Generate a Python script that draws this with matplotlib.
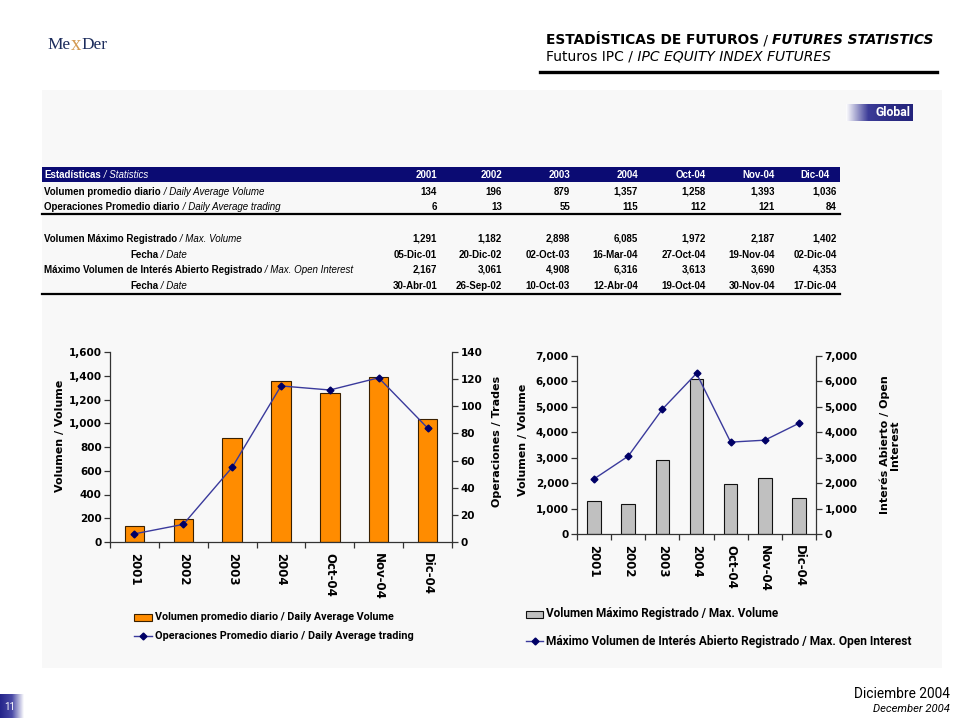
import matplotlib
matplotlib.use('Agg')
import matplotlib.pyplot as plt
import numpy as np
from matplotlib import font_manager
from matplotlib.colors import LinearSegmentedColormap
from matplotlib.lines import Line2D
from matplotlib.patches import Rectangle

# ---------------- data ----------------
periods = ['2001', '2002', '2003', '2004', 'Oct-04', 'Nov-04', 'Dic-04']
avg_volume = [134, 196, 879, 1357, 1258, 1393, 1036]
avg_trades = [6, 13, 55, 115, 112, 121, 84]
max_volume = [1291, 1182, 2898, 6085, 1972, 2187, 1402]
max_volume_date = ['05-Dic-01', '20-Dic-02', '02-Oct-03', '16-Mar-04',
                   '27-Oct-04', '19-Nov-04', '02-Dic-04']
max_open_interest = [2167, 3061, 4908, 6316, 3613, 3690, 4353]
max_open_interest_date = ['30-Abr-01', '26-Sep-02', '10-Oct-03', '12-Abr-04',
                          '19-Oct-04', '30-Nov-04', '17-Dic-04']

vol_ticks = [0, 200, 400, 600, 800, 1000, 1200, 1400, 1600]
trade_ticks = [0, 20, 40, 60, 80, 100, 120, 140]
max_ticks = [0, 1000, 2000, 3000, 4000, 5000, 6000, 7000]

# ---------------- setup ----------------
W, H = 960, 720
fig = plt.figure(figsize=(9.6, 7.2), dpi=100)
fig.patch.set_facecolor('white')
R = fig.canvas.get_renderer()

def fx(px):
    return px / W

def fy(py):
    return 1 - py / H

names = {f.name for f in font_manager.fontManager.ttflist}

def pick(*cands):
    for c in cands:
        if c in names:
            return c
    return 'DejaVu Sans'

NARROW = pick('Liberation Sans Narrow', 'Liberation Sans')
VERD = 'DejaVu Sans'
TAHOMA = pick('DejaVu Sans Condensed', 'Roboto', 'DejaVu Sans')
SERIF = pick('Liberation Serif', 'DejaVu Serif')

NAVY = '#0b0b73'


def rich(x, y, parts, ha='left', size=8, fit=None, **common):
    def draw(sz):
        ts = []
        cur = x
        for s, kw in parts:
            opts = dict(common)
            opts.update(kw)
            sc = opts.pop('scale', 1.0)
            adv = opts.pop('adv', 0.0)
            t = fig.text(fx(cur), fy(y), s, ha='left', va='center',
                         fontsize=sz * sc, **opts)
            cur += t.get_window_extent(renderer=R).width + adv
            ts.append(t)
        return ts, cur - x
    ts, w = draw(size)
    if fit:
        for t in ts:
            t.remove()
        size = size * fit / w
        ts, w = draw(size)
    if ha != 'left':
        shift = w if ha == 'right' else w / 2
        for t in ts:
            px, py = t.get_position()
            t.set_position((px - shift / W, py))
    return size


def grad_box(x0, y0, x1, y1, colors):
    ax = fig.add_axes([fx(x0), fy(y1), (x1 - x0) / W, (y1 - y0) / H])
    cmap = LinearSegmentedColormap.from_list('g', colors)
    ax.imshow(np.linspace(0, 1, 256)[None, :], aspect='auto', cmap=cmap,
              extent=[0, 1, 0, 1])
    ax.axis('off')
    return ax


def hline(x0, x1, y, lw, color='black'):
    fig.add_artist(Line2D([fx(x0), fx(x1)], [fy(y), fy(y)], lw=lw,
                          color=color, transform=fig.transFigure))

# ---------------- background panel ----------------
fig.add_artist(Rectangle((fx(42), fy(668)), 900 / W, 578 / H,
                         transform=fig.transFigure, facecolor='#f8f8f8',
                         edgecolor='none', zorder=-5))

# ---------------- logo ----------------
rich(47, 45, [('Me', {'color': '#1c2c5c', 'adv': 0.5}),
              ('x', {'color': '#d39a52', 'scale': 1.2, 'adv': 0.5}),
              ('Der', {'color': '#1c2c5c'})],
     size=16, fit=60, family=SERIF)

# ---------------- header ----------------
rich(546, 40, [('ESTADÍSTICAS DE FUTUROS', {'fontweight': 'bold'}),
               (' / ', {}),
               ('FUTURES STATISTICS', {'fontweight': 'bold', 'fontstyle': 'italic'})],
     size=9, fit=387, family=VERD)
rich(546, 56, [('Futuros IPC /', {}),
               (' IPC EQUITY INDEX FUTURES', {'fontstyle': 'italic'})],
     size=9, fit=286, family=VERD)
hline(540, 937, 72, 2.4)

# Global tag
grad_box(846, 104, 913, 121, ['#ffffff', '#3c3c98', '#2c2c84', '#24247c'])
rich(893, 113, [('Global', {})], ha='center', size=8.5, fit=35, color='white',
     fontweight='bold', family=TAHOMA)

# ---------------- table ----------------
col_right = [437, 502, 570, 638, 706, 775, 837]
fig.add_artist(Rectangle((fx(42), fy(182)), (840 - 42) / W, 15 / H,
                         transform=fig.transFigure, facecolor=NAVY,
                         edgecolor='none'))

row_y = [192, 207, 239, 255, 270, 286]
S = rich(44, row_y[4], [('Máximo Volumen de Interés Abierto Registrado', {'fontweight': 'bold'}),
                        (' / Max. Open Interest', {'fontstyle': 'italic'})],
         size=8, fit=311, family=NARROW)

rich(44, 175, [('Estadísticas', {'fontweight': 'bold'}),
               (' / Statistics', {'fontstyle': 'italic'})],
     size=S, family=NARROW, color='white')
for i, p in enumerate(periods):
    xr = col_right[i] if i < 6 else 830
    fig.text(fx(xr), fy(175), p, ha='right', va='center', color='white',
             fontsize=S, fontweight='bold', family=NARROW)

row_labels = [
    (44, 'Volumen promedio diario', ' / Daily Average Volume'),
    (44, 'Operaciones Promedio diario', ' / Daily Average trading'),
    (44, 'Volumen Máximo Registrado', ' / Max. Volume'),
    (130, 'Fecha', ' / Date'),
    None,
    (130, 'Fecha', ' / Date'),
]
for (lab, yy) in zip(row_labels, row_y):
    if lab is None:
        continue
    rich(lab[0], yy, [(lab[1], {'fontweight': 'bold'}), (lab[2], {'fontstyle': 'italic'})],
         size=S, family=NARROW)

row_values = [
    [f'{v:,}' for v in avg_volume],
    [f'{v:,}' for v in avg_trades],
    [f'{v:,}' for v in max_volume],
    max_volume_date,
    [f'{v:,}' for v in max_open_interest],
    max_open_interest_date,
]
for vals, yy in zip(row_values, row_y):
    for i, v in enumerate(vals):
        fig.text(fx(col_right[i]), fy(yy), v, ha='right', va='center',
                 fontsize=S, fontweight='bold', family=NARROW)

hline(42, 840, 214.5, 1.6)
hline(42, 840, 294, 1.6)

# ---------------- charts ----------------
SPINE = '#333333'
LINE_C = '#3a3a9c'
MARK_C = '#000066'
x = np.arange(len(periods))


def style_axes(ax, ax2, yticks, yticks2):
    ax.set_facecolor('none')
    ax.set_xlim(-0.5, len(periods) - 0.5)
    ax.set_ylim(yticks[0], yticks[-1])
    ax.set_yticks(yticks)
    ax.set_yticklabels([f'{v:,}' for v in yticks])
    ax2.set_ylim(yticks2[0], yticks2[-1])
    ax2.set_yticks(yticks2)
    ax2.set_yticklabels([f'{v:,}' for v in yticks2])
    ax.set_xticks(np.arange(-0.5, len(periods), 1.0))
    ax.set_xticklabels([])
    ax.set_xticks(x, minor=True)
    ax.set_xticklabels(periods, minor=True, rotation=-90, va='top',
                       ha='center', fontsize=8.5, fontweight='bold', family=VERD)
    ax.tick_params(axis='x', which='minor', length=0, pad=8)
    ax.tick_params(axis='x', which='major', length=4, width=0.9, color=SPINE)
    for a in (ax, ax2):
        a.tick_params(axis='y', length=4, width=0.9, color=SPINE, labelsize=7.5, pad=2)
        for lab in a.get_yticklabels():
            lab.set_fontweight('bold')
            lab.set_family(VERD)
        a.spines['top'].set_visible(False)
    ax.spines['right'].set_visible(False)
    for s in ('left', 'bottom'):
        ax.spines[s].set_color(SPINE)
        ax.spines[s].set_linewidth(0.9)
    ax2.spines['left'].set_visible(False)
    ax2.spines['bottom'].set_visible(False)
    ax2.spines['right'].set_color(SPINE)
    ax2.spines['right'].set_linewidth(0.9)


# Left chart
ax1 = fig.add_axes([fx(110), fy(542), 342 / W, 190 / H])
ax1b = ax1.twinx()
ax1.bar(x, avg_volume, width=0.4, color='#ff8c00', edgecolor='#3a2000',
        linewidth=0.8, zorder=2)
ax1b.plot(x, avg_trades, color=LINE_C, lw=1.0, marker='D', markersize=3.5,
          markerfacecolor=MARK_C, markeredgecolor=MARK_C)
style_axes(ax1, ax1b, vol_ticks, trade_ticks)
ax1.set_ylabel('Volumen / Volume', fontsize=8, fontweight='bold', family=VERD)
ax1.yaxis.set_label_coords((65 - 110) / 342, 0.56)
ax1b.set_ylabel('Operaciones / Trades', fontsize=8, fontweight='bold', family=VERD,
                rotation=90)
ax1b.yaxis.set_label_coords((492 - 110) / 342, 0.53)

# Right chart
ax2 = fig.add_axes([fx(577), fy(534), 239 / W, 178 / H])
ax2b = ax2.twinx()
ax2.bar(x, max_volume, width=0.4, color='#c0c0c0', edgecolor='#111111',
        linewidth=0.8, zorder=2)
ax2b.plot(x, max_open_interest, color=LINE_C, lw=1.0, marker='D', markersize=3.5,
          markerfacecolor=MARK_C, markeredgecolor=MARK_C)
style_axes(ax2, ax2b, max_ticks, max_ticks)
ax2.set_ylabel('Volumen / Volume', fontsize=8, fontweight='bold', family=VERD)
ax2.yaxis.set_label_coords((528 - 577) / 239, 0.53)
ax2b.set_ylabel('Interés Abierto / Open\nInterest', fontsize=8, fontweight='bold',
                family=VERD, rotation=90, linespacing=1.0, ha='center')
ax2b.yaxis.set_label_coords((879 - 577) / 239, 0.5)

# ---------------- legends ----------------
rich(155, 617, [('Volumen promedio diario / Daily Average Volume', {})],
     size=7, fit=238, family=TAHOMA, fontweight='bold')
rich(155, 636, [('Operaciones Promedio diario / Daily Average trading', {})],
     size=7, fit=258, family=TAHOMA, fontweight='bold')
fig.add_artist(Rectangle((fx(134), fy(621)), 18 / W, 7 / H, transform=fig.transFigure,
                         facecolor='#ff8c00', edgecolor='#3a2000', lw=0.8))
fig.add_artist(Line2D([fx(134), fx(152)], [fy(636), fy(636)], transform=fig.transFigure,
                      color=LINE_C, lw=1.0))
fig.add_artist(Line2D([fx(143)], [fy(636)], transform=fig.transFigure, marker='D',
                      markersize=3.5, color=MARK_C, lw=0))

rich(546, 614, [('Volumen Máximo Registrado / Max. Volume', {})],
     size=7, fit=235, family=TAHOMA, fontweight='bold')
rich(546, 641, [('Máximo Volumen de Interés Abierto Registrado / Max. Open Interest', {})],
     size=7, fit=367, family=TAHOMA, fontweight='bold')
fig.add_artist(Rectangle((fx(526), fy(618)), 17 / W, 7 / H, transform=fig.transFigure,
                         facecolor='#c0c0c0', edgecolor='#111111', lw=0.8))
fig.add_artist(Line2D([fx(526), fx(543)], [fy(641), fy(641)], transform=fig.transFigure,
                      color=LINE_C, lw=1.0))
fig.add_artist(Line2D([fx(534.5)], [fy(641)], transform=fig.transFigure, marker='D',
                      markersize=3.5, color=MARK_C, lw=0))

# ---------------- footer ----------------
grad_box(0, 694, 24, 718, ['#24248a', '#4a4aa6', '#ffffff'])
fig.text(fx(10), fy(707), '11', ha='center', va='center', color='white',
         fontsize=7, family=TAHOMA)
rich(950, 694, [('Diciembre 2004', {})], ha='right', size=8.5, fit=95, family=TAHOMA)
rich(950, 709, [('December 2004', {'fontstyle': 'italic'})], ha='right', size=7,
     fit=78, family=TAHOMA)

fig.savefig('out.png', dpi=100)
